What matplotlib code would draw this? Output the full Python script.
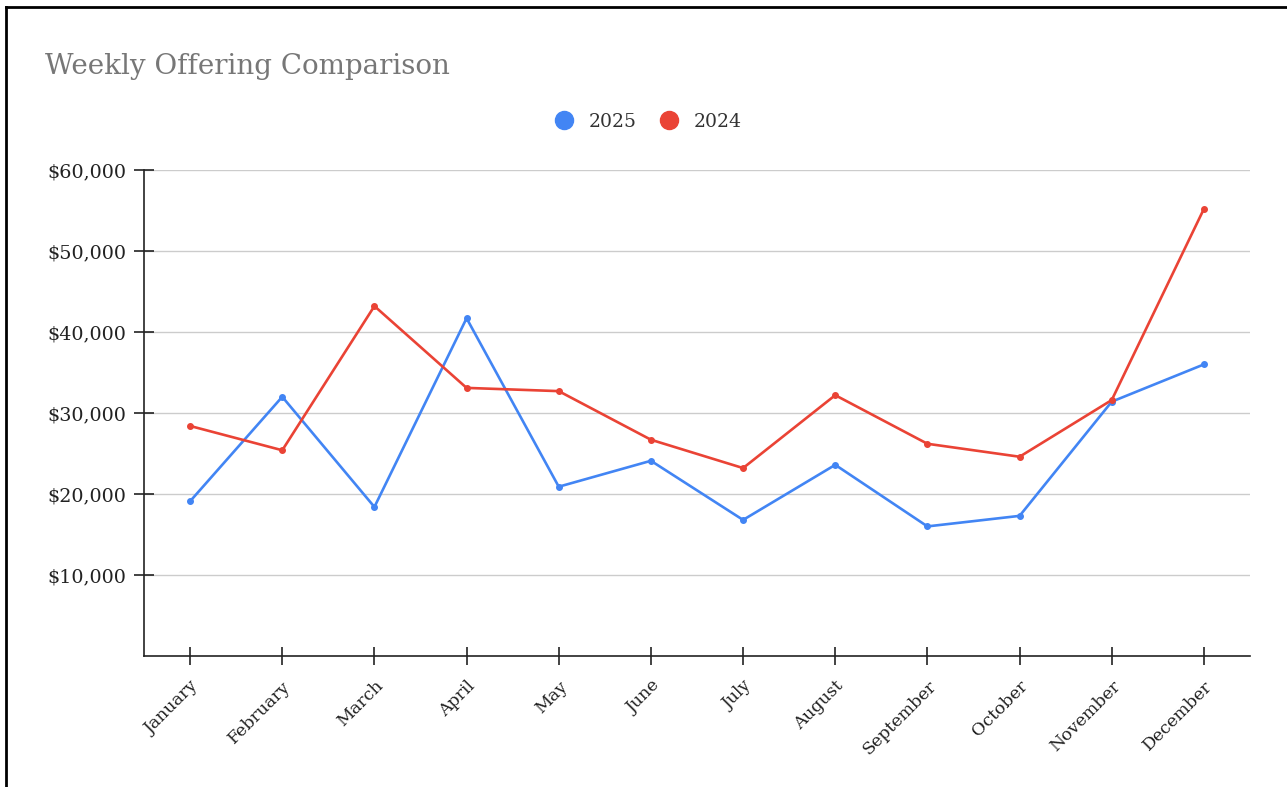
import matplotlib
matplotlib.use("Agg")
import matplotlib.pyplot as plt
from matplotlib.lines import Line2D
from matplotlib.ticker import FuncFormatter

months = ["January", "February", "March", "April", "May", "June", "July",
          "August", "September", "October", "November", "December"]
offering_2025 = [19100, 32000, 18400, 41700, 20900, 24100, 16800, 23600, 16000, 17300, 31400, 36000]
offering_2024 = [28400, 25400, 43200, 33100, 32700, 26700, 23200, 32200, 26200, 24600, 31600, 55200]
y_ticks = [10000, 20000, 30000, 40000, 50000, 60000]

BLUE = "#4285F4"
RED = "#EA4335"
FONT = "DejaVu Serif"

W, H = 1287, 787
fig = plt.figure(figsize=(W / 100, H / 100), dpi=100)
fig.patch.set_facecolor("white")

ax = fig.add_axes([144 / W, 1 - 656 / H, (1250 - 144) / W, (656 - 170) / H])
x = list(range(len(months)))
ax.plot(x, offering_2025, color=BLUE, lw=1.9, marker="o", ms=4, label="2025", zorder=3)
ax.plot(x, offering_2024, color=RED, lw=1.9, marker="o", ms=4, label="2024", zorder=3)

ax.set_xlim(-0.5, len(months) - 0.5)
ax.set_ylim(0, 60000)
ax.set_yticks(y_ticks)
ax.yaxis.set_major_formatter(FuncFormatter(lambda v, p: f"${v:,.0f}"))
ax.set_xticks(x)
ax.set_xticklabels(months, rotation=45, ha="right", rotation_mode="anchor",
                   fontfamily=FONT, fontsize=12.5, color="#222222")
for lab in ax.get_yticklabels():
    lab.set_fontfamily(FONT)
    lab.set_fontsize(13.8)
    lab.set_color("#222222")

ax.grid(axis="y", color="#cccccc", lw=1)
ax.set_axisbelow(True)
for s in ["top", "right"]:
    ax.spines[s].set_visible(False)
for s in ["left", "bottom"]:
    ax.spines[s].set_color("#222222")
    ax.spines[s].set_linewidth(1.2)
ax.tick_params(axis="y", direction="inout", length=14, width=1.2, color="#222222", pad=6)
ax.tick_params(axis="x", direction="inout", length=13, width=1.2, color="#222222", pad=9)

fig.text(45 / W, 1 - 66 / H, "Weekly Offering Comparison", fontfamily=FONT,
         fontsize=20, color="#777777", va="center", ha="left")

handles = [Line2D([], [], color=BLUE, marker="o", ls="none", ms=13),
           Line2D([], [], color=RED, marker="o", ls="none", ms=13)]
fig.legend(handles, ["2025", "2024"], loc="center", bbox_to_anchor=(648 / W, 1 - 122 / H),
           ncol=2, frameon=False, prop={"family": FONT, "size": 13.5},
           handletextpad=0.8, columnspacing=1.25, handlelength=1.0, labelcolor="#333333")

fig.add_artist(Line2D([5.5 / W, 5.5 / W], [0, 1 - 6.5 / H], color="black", lw=2,
                      transform=fig.transFigure))
fig.add_artist(Line2D([5.5 / W, 1], [1 - 6.5 / H, 1 - 6.5 / H], color="black", lw=2,
                      transform=fig.transFigure))

fig.savefig("out.png", dpi=100)
